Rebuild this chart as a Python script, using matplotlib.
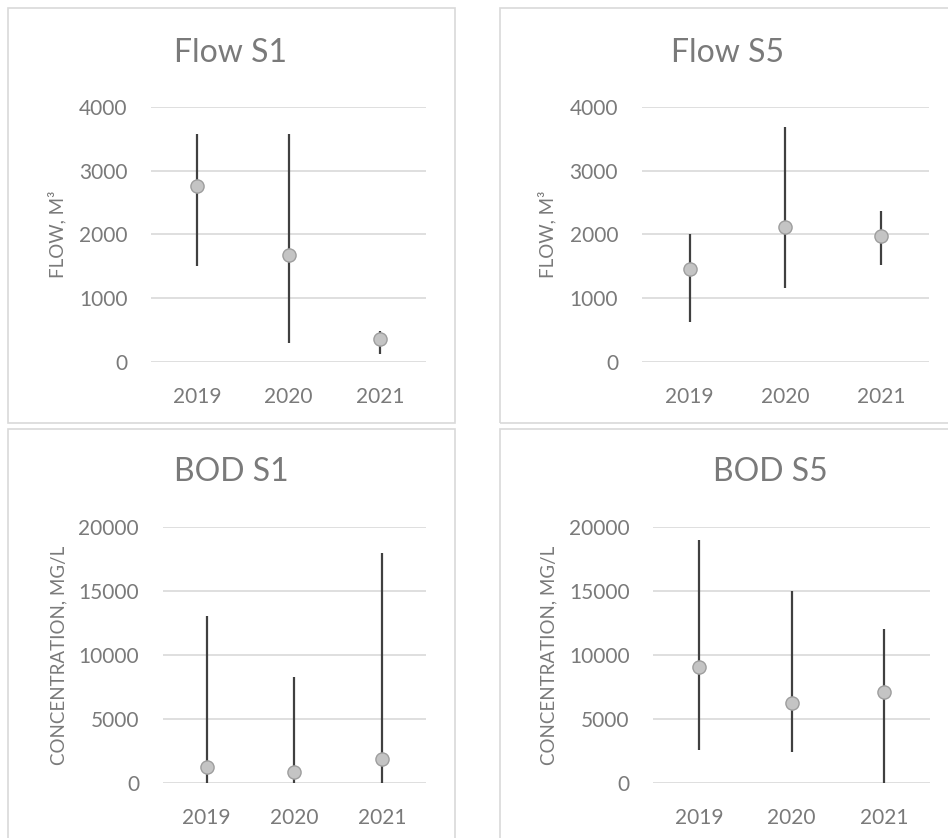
import matplotlib
matplotlib.use("Agg")
import matplotlib.pyplot as plt
from matplotlib.patches import Rectangle

plt.rcParams["font.family"] = ["Lato", "DejaVu Sans"]

# ----- data -----
years = ["2019", "2020", "2021"]

flow_s1_mid = [2760, 1675, 360]
flow_s1_low = [1510, 305, 130]
flow_s1_high = [3570, 3570, 490]

flow_s5_mid = [1455, 2115, 1970]
flow_s5_low = [630, 1155, 1515]
flow_s5_high = [2000, 3690, 2375]

bod_s1_mid = [1250, 860, 1850]
bod_s1_low = [0, 0, 0]
bod_s1_high = [13000, 8300, 18000]

bod_s5_mid = [9070, 6260, 7070]
bod_s5_low = [2580, 2420, 0]
bod_s5_high = [19000, 15000, 12000]

titles = ["Flow S1", "Flow S5", "BOD S1", "BOD S5"]
ylabels = ["FLOW, M\u00b3", "FLOW, M\u00b3", "CONCENTRATION, MG/L", "CONCENTRATION, MG/L"]
yticks_flow = [0, 1000, 2000, 3000, 4000]
yticks_bod = [0, 5000, 10000, 15000, 20000]

# ----- layout (pixels) -----
W, H = 948, 838
text_color = "#7a7a7a"

panels = [
    # axes box (left, right, top, bottom), title pos, ylabel pos, border (x0, x1, y0, y1)
    dict(ax=(151, 426, 107, 362), title=(231, 53), ylab=(57, 234), border=(8, 455, 8, 423)),
    dict(ax=(641.7, 929, 107, 362), title=(728, 53), ylab=(547, 234), border=(500, 960, 8, 423)),
    dict(ax=(162.7, 425.7, 527, 782.7), title=(231, 472), ylab=(59, 655), border=(8, 455, 429, 850)),
    dict(ax=(653.3, 930, 527, 782.7), title=(770, 472), ylab=(549, 655), border=(500, 960, 429, 850)),
]

series = [
    (flow_s1_low, flow_s1_mid, flow_s1_high, yticks_flow),
    (flow_s5_low, flow_s5_mid, flow_s5_high, yticks_flow),
    (bod_s1_low, bod_s1_mid, bod_s1_high, yticks_bod),
    (bod_s5_low, bod_s5_mid, bod_s5_high, yticks_bod),
]

fig = plt.figure(figsize=(W / 100, H / 100), dpi=100)
fig.patch.set_facecolor("white")

for i, p in enumerate(panels):
    # chart area border
    bx0, bx1, by0, by1 = p["border"]
    fig.patches.append(Rectangle((bx0 / W, 1 - by1 / H), (bx1 - bx0) / W, (by1 - by0) / H,
                                 transform=fig.transFigure, fill=False,
                                 edgecolor="#d9d9d9", linewidth=1.2, zorder=0))

    l, r, t, b = p["ax"]
    ax = fig.add_axes([l / W, 1 - b / H, (r - l) / W, (b - t) / H])
    low, mid, high, yticks = series[i]
    x = [k + 0.5 for k in range(len(years))]

    ax.vlines(x, low, high, color="#404040", linewidth=1.6, zorder=3, clip_on=False)
    ax.plot(x, mid, linestyle="none", marker="o", markersize=9.5,
            markerfacecolor="#c4c4c4", markeredgecolor="#9e9e9e", markeredgewidth=1.0,
            zorder=4, clip_on=False)

    ax.set_xlim(0, 3)
    ax.set_ylim(yticks[0], yticks[-1])
    ax.set_xticks(x)
    ax.set_xticklabels(years)
    ax.set_yticks(yticks)
    ax.yaxis.grid(True, color="#d9d9d9", linewidth=1.2)
    ax.set_axisbelow(True)
    for s in ax.spines.values():
        s.set_visible(False)
    ax.tick_params(axis="both", length=0, labelsize=15, colors=text_color)
    ax.tick_params(axis="x", pad=18)
    ax.tick_params(axis="y", pad=17)

    tx, ty = p["title"]
    fig.text(tx / W, 1 - ty / H, titles[i], ha="center", va="center",
             fontsize=23, color=text_color)
    lx, ly = p["ylab"]
    fig.text(lx / W, 1 - ly / H, ylabels[i], ha="center", va="center",
             rotation=90, fontsize=13.5, color=text_color)

fig.savefig("out.png", dpi=100, facecolor="white")
